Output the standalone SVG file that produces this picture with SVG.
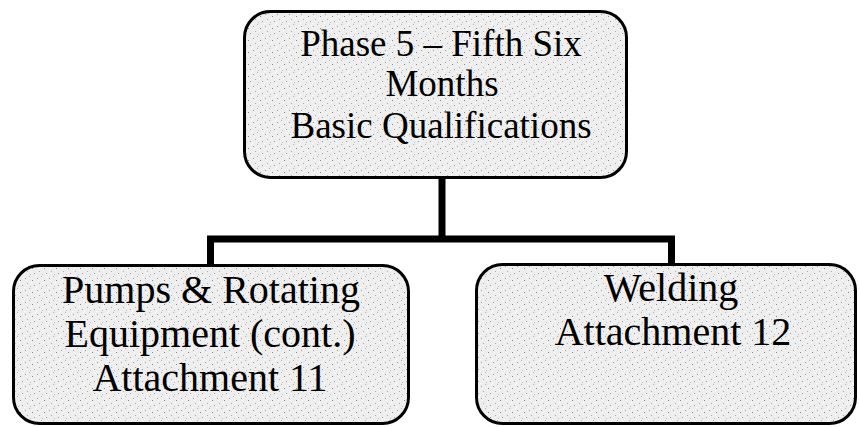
<svg xmlns="http://www.w3.org/2000/svg" width="860" height="427" viewBox="0 0 860 427">
  <defs>
    <!-- speckled light-grey fill used inside every box -->
    <pattern id="speckle" width="12" height="12" patternUnits="userSpaceOnUse">
      <rect width="12" height="12" fill="#eeeeee"/>
      <rect x="1" y="2" width="1" height="1" fill="#9a9a9a"/>
      <rect x="5" y="0" width="1" height="1" fill="#b5b5b5"/>
      <rect x="8" y="4" width="1" height="1" fill="#8c8c8c"/>
      <rect x="3" y="7" width="1" height="1" fill="#b0b0b0"/>
      <rect x="10" y="9" width="1" height="1" fill="#a0a0a0"/>
      <rect x="6" y="10" width="1" height="1" fill="#c0c0c0"/>
      <rect x="0" y="11" width="1" height="1" fill="#ffffff"/>
      <rect x="7" y="6" width="1" height="1" fill="#ffffff"/>
      <rect x="2" y="4" width="1" height="1" fill="#ffffff"/>
      <rect x="11" y="1" width="1" height="1" fill="#ffffff"/>
    </pattern>
  </defs>
  <style>
    .box { fill: url(#speckle); stroke: #000; stroke-width: 3; }
    .wire { fill: none; stroke: #000; stroke-width: 7; }
    .label { font-family: 'Liberation Serif', 'Times New Roman', serif; fill: #000; text-anchor: middle; }
    .top { font-size: 37px; }
    .low { font-size: 40px; }
  </style>

  <rect width="860" height="427" fill="#ffffff"/>

  <!-- connectors -->
  <g id="connectors">
    <path class="wire" d="M442 178 V239"/>
    <path class="wire" d="M210.5 264 V239 H671.5 V264"/>
  </g>

  <!-- top node -->
  <g id="phase5">
    <rect class="box" x="244.5" y="11.5" width="382" height="166" rx="26" ry="26"/>
    <text class="label top" x="441" y="56">Phase 5 – Fifth Six</text>
    <text class="label top" x="442" y="96">Months</text>
    <text class="label top" x="441" y="138">Basic Qualifications</text>
  </g>

  <!-- bottom-left node -->
  <g id="pumps">
    <rect class="box" x="13.5" y="265.5" width="395" height="158" rx="26" ry="26"/>
    <text class="label low" x="211" y="303">Pumps &amp; Rotating</text>
    <text class="label low" x="210" y="347">Equipment (cont.)</text>
    <text class="label low" x="210" y="391">Attachment 11</text>
  </g>

  <!-- bottom-right node -->
  <g id="welding">
    <rect class="box" x="476.5" y="264.5" width="379" height="159" rx="26" ry="26"/>
    <text class="label low" x="671" y="301">Welding</text>
    <text class="label low" x="673" y="345">Attachment 12</text>
  </g>
</svg>
